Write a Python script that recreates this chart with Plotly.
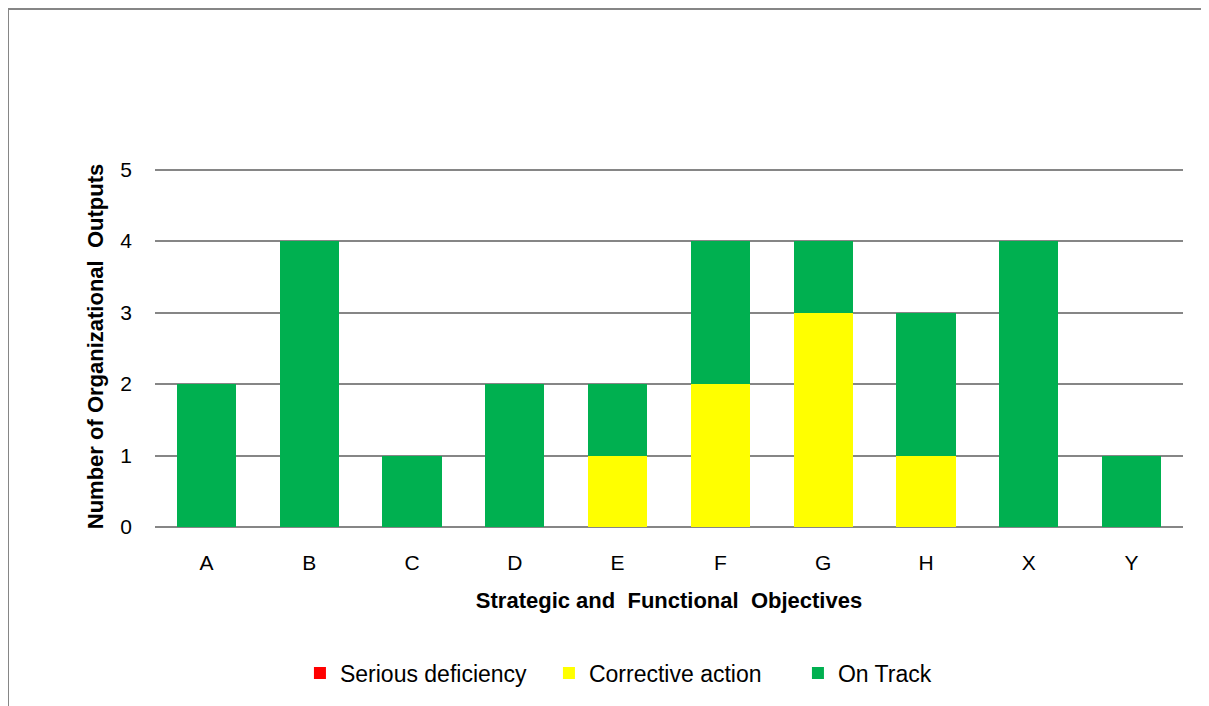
import plotly.graph_objects as go

categories = ["A", "B", "C", "D", "E", "F", "G", "H", "X", "Y"]
serious = [0, 0, 0, 0, 0, 0, 0, 0, 0, 0]
corrective = [0, 0, 0, 0, 1, 2, 3, 1, 0, 0]
on_track = [2, 4, 1, 2, 1, 2, 1, 2, 4, 1]

COLORS = {
    "red": "#FF0000",
    "yellow": "#FFFF00",
    "green": "#00B050",
    "grid": "#868686",
}

FONT = "Liberation Sans"

fig = go.Figure()
fig.add_trace(go.Bar(x=categories, y=serious, name="Serious deficiency",
                     marker=dict(color=COLORS["red"], line=dict(width=0))))
fig.add_trace(go.Bar(x=categories, y=corrective, name="Corrective action",
                     marker=dict(color=COLORS["yellow"], line=dict(width=0))))
fig.add_trace(go.Bar(x=categories, y=on_track, name="On Track",
                     marker=dict(color=COLORS["green"], line=dict(width=0))))

# outer chart border (runs past the visible area on the right / bottom)
fig.add_shape(type="rect", xref="paper", yref="paper",
              x0=-0.143, x1=1.2, y0=-0.7, y1=1.435,
              line=dict(color=COLORS["grid"], width=2), layer="below")

fig.update_layout(
    barmode="stack",
    bargap=0.425,
    width=1209,
    height=706,
    plot_bgcolor="white",
    paper_bgcolor="white",
    margin=dict(l=147, r=34, t=158, b=187),
    font=dict(family=FONT, size=21, color="black"),
    xaxis=dict(
        title=dict(text="<b>Strategic and  Functional  Objectives</b>",
                   font=dict(size=22), standoff=19),
        ticks="", showgrid=False, showline=False,
        ticklabelstandoff=21,
    ),
    yaxis=dict(
        title=dict(text="<b>Number of Organizational  Outputs</b>",
                   font=dict(size=22), standoff=10),
        range=[0, 5.05], dtick=1, ticks="",
        showgrid=True, gridcolor=COLORS["grid"], gridwidth=1.5,
        zeroline=True, zerolinecolor=COLORS["grid"], zerolinewidth=1.5,
        showline=False, ticklabelstandoff=22,
    ),
    legend=dict(orientation="h", x=0.141, xanchor="left",
                y=-0.4044, yanchor="middle", font=dict(size=23),
                itemwidth=30, entrywidth=204, entrywidthmode="pixels",
                traceorder="normal"),
)

fig.write_html("out.html")
